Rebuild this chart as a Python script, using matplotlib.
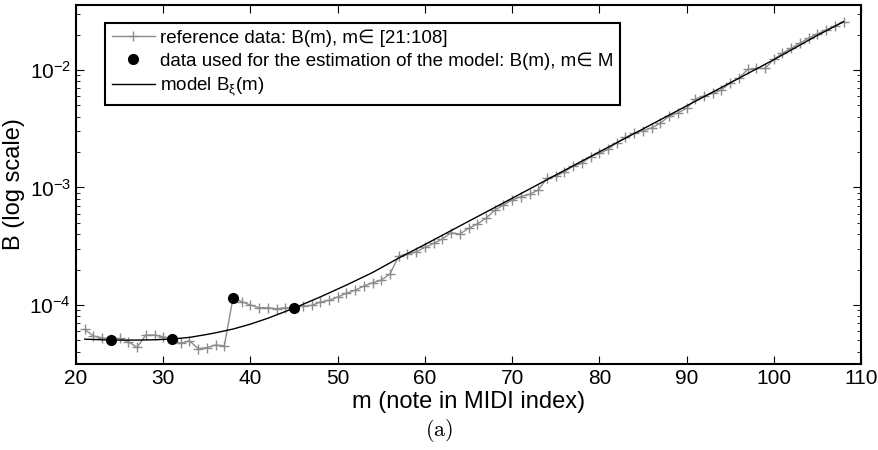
import numpy as np
import matplotlib.pyplot as plt

plt.rcParams['font.family'] = ['Liberation Sans', 'DejaVu Sans']
plt.rcParams['mathtext.fontset'] = 'custom'
plt.rcParams['mathtext.rm'] = 'Liberation Sans'
plt.rcParams['mathtext.it'] = 'Liberation Sans'

# reference data B(m), m = 21..108
m_ref = np.arange(21, 109)
B_ref = [6.2e-5, 5.45e-5, 5.27e-5, 5.1e-5, 5.2e-5, 4.88e-5, 4.37e-5, 5.56e-5, 5.56e-5, 5.37e-5,
         5.14e-5, 4.72e-5, 4.97e-5, 4.26e-5, 4.35e-5, 4.57e-5, 4.5e-5, 1.15e-4, 1.07e-4, 1.0e-4,
         9.5e-5, 9.5e-5, 9.3e-5, 9.5e-5, 9.44e-5, 9.8e-5, 9.93e-5, 1.06e-4, 1.1e-4, 1.17e-4,
         1.26e-4, 1.34e-4, 1.45e-4, 1.55e-4, 1.63e-4, 1.84e-4, 2.61e-4, 2.7e-4, 2.84e-4, 3.1e-4,
         3.35e-4, 3.65e-4, 4.12e-4, 4.02e-4, 4.49e-4, 4.89e-4, 5.47e-4, 6.4e-4, 7.1e-4, 7.83e-4,
         8.36e-4, 8.75e-4, 9.52e-4, 1.2e-3, 1.25e-3, 1.36e-3, 1.52e-3, 1.61e-3, 1.83e-3, 1.95e-3,
         2.11e-3, 2.41e-3, 2.67e-3, 2.89e-3, 3.04e-3, 3.22e-3, 3.52e-3, 4.06e-3, 4.3e-3, 4.72e-3,
         5.63e-3, 6.01e-3, 6.33e-3, 6.75e-3, 7.8e-3, 8.49e-3, 1.01e-2, 1.03e-2, 1.03e-2, 1.23e-2,
         1.39e-2, 1.53e-2, 1.69e-2, 1.86e-2, 2.02e-2, 2.19e-2, 2.37e-2, 2.58e-2]

# data used for estimation (m in M)
m_est = [24, 31, 38, 45]
B_est = [5.04e-5, 5.14e-5, 1.15e-4, 9.44e-5]

# model curve (log10 B)
m_mod = [21, 24, 27, 29, 31, 33, 35, 36, 38, 40, 42, 45, 48, 51, 54, 57, 60, 65, 70,
         75, 80, 85, 90, 95, 100, 105, 108]
logB_mod = [-4.290, -4.298, -4.298, -4.295, -4.289, -4.275, -4.250, -4.236, -4.204, -4.162,
            -4.112, -4.026, -3.931, -3.830, -3.723, -3.600, -3.485, -3.288, -3.092,
            -2.894, -2.697, -2.502, -2.306, -2.110, -1.913, -1.706, -1.590]
B_mod = [10 ** v for v in logB_mod]

fig = plt.figure(figsize=(8.79, 4.5), dpi=100)
ax = fig.add_axes([0.0865, 0.191, 0.893, 0.798])

ax.plot(m_ref, B_ref, color='#8c8c8c', lw=1.0, marker='+', ms=7, mew=1.0,
        label='reference data: B(m), m\u2208 [21:108]')
ax.plot(m_est, B_est, 'o', color='black', ms=7, ls='none',
        label='data used for the estimation of the model: B(m), m\u2208 M')
ax.plot(m_mod, B_mod, color='black', lw=1.0, label=r'model B$_\xi$(m)')

ax.set_yscale('log')
ax.set_xlim(20, 110)
ax.set_ylim(3.15e-5, 3.57e-2)
ax.set_xticks(range(20, 111, 10))
ax.tick_params(which='both', direction='in', top=True, right=True, labelsize=15)
ax.tick_params(which='major', length=6)
ax.tick_params(which='minor', length=3)
for s in ax.spines.values():
    s.set_linewidth(1.5)

ax.set_xlabel('m (note in MIDI index)', fontsize=17, labelpad=2)
ax.set_ylabel('B (log scale)', fontsize=17, labelpad=3)

leg = ax.legend(loc='upper left', bbox_to_anchor=(0.037, 0.95), borderaxespad=0,
                fontsize=13.5, fancybox=False, edgecolor='black', framealpha=1,
                handlelength=2.3, handletextpad=0.3, labelspacing=0.3, borderpad=0.35)
leg.get_frame().set_linewidth(1.5)

fig.text(0.5, 0.03, r'$\mathrm{(a)}$', ha='center', fontsize=16, math_fontfamily='cm')

fig.savefig('out.png', dpi=100)
